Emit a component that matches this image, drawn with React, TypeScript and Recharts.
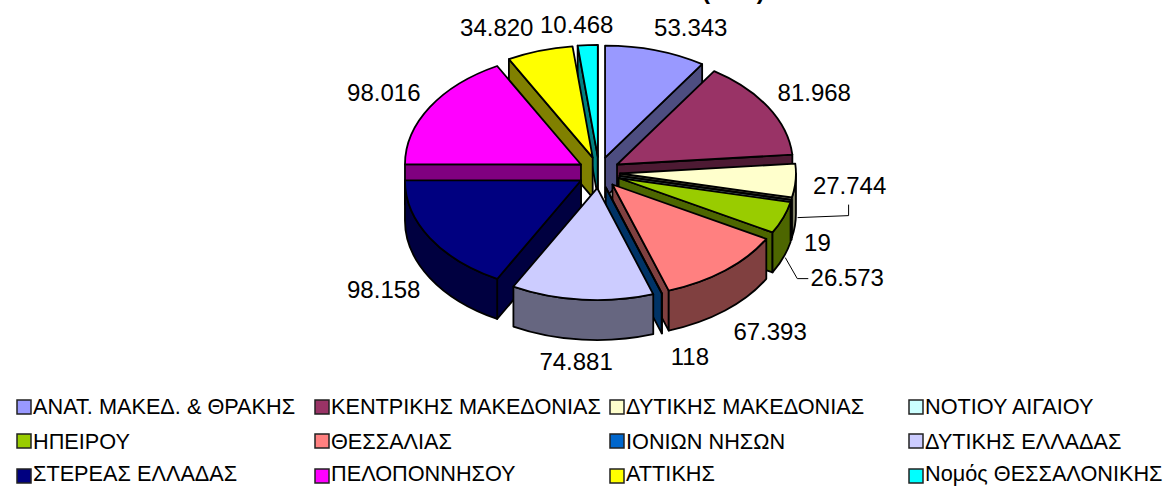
import React from "react";
import { PieChart, Pie, Legend } from "recharts";

const categories = ["ΑΝΑΤ. ΜΑΚΕΔ. & ΘΡΑΚΗΣ","ΚΕΝΤΡΙΚΗΣ ΜΑΚΕΔΟΝΙΑΣ","ΔΥΤΙΚΗΣ ΜΑΚΕΔΟΝΙΑΣ","ΝΟΤΙΟΥ ΑΙΓΑΙΟΥ","ΗΠΕΙΡΟΥ","ΘΕΣΣΑΛΙΑΣ","ΙΟΝΙΩΝ ΝΗΣΩΝ","ΔΥΤΙΚΗΣ ΕΛΛΑΔΑΣ","ΣΤΕΡΕΑΣ ΕΛΛΑΔΑΣ","ΠΕΛΟΠΟΝΝΗΣΟΥ","ΑΤΤΙΚΗΣ","Νομός ΘΕΣΣΑΛΟΝΙΚΗΣ"];
const values = [53343,81968,27744,19,26573,67393,118,74881,98158,98016,34820,10468];
const valueLabels = ["53.343","81.968","27.744","19","26.573","67.393","118","74.881","98.158","98.016","34.820","10.468"];
const topColors = ["#9999FF","#993366","#FFFFCC","#CCFFFF","#99CC00","#FF8080","#0066CC","#CCCCFF","#000080","#FF00FF","#FFFF00","#00FFFF"];
const sideColors = ["#4D4D80","#4D1A33","#808066","#668080","#4D6600","#804040","#003366","#666680","#000040","#800080","#808000","#008080"];
const drawOrder = [11,0,10,1,9,2,3,4,8,5,6,7];
const labelNudges = [[35,-23],[46,-15],[54,5],[26,43],[64,60],[45,61],[28,63],[-6,62],[-46,52],[-46,-15],[-43,-23],[-11,-21]];
const leaders: Record<number, number[][]> = { 2: [[-52,32],[-1,30],[-1,19]], 4: [[-62,-20],[-50,1],[-39,1]] };
const legendCols = [17,315,610,909];
const legendRows = [407,441,476];
const legendTextRows = [406,441,473.5];

const TILT = 112 / 176, DEPTH = 40, EX = 21, EY = 15.6;
const rad = (d: number) => (d * Math.PI) / 180;

function Slice3D(props: any) {
  const { cx, cy, outerRadius: r, startAngle, endAngle, index, layer } = props;
  if (index !== layer) return null;
  const a0 = 90 - startAngle, a1 = 90 - endAngle;
  const mid = (a0 + a1) / 2;
  const px = cx + EX * Math.sin(rad(mid));
  const py = cy - EY * Math.cos(rad(mid));
  const ry = r * TILT;
  const pt = (a: number, d = 0) => [px + r * Math.sin(rad(a)), py - ry * Math.cos(rad(a)) + d];
  const arc = (from: number, to: number, d: number) => {
    const [x, y] = pt(to, d);
    const sweep = to > from ? 1 : 0;
    return `A${r} ${ry} 0 ${Math.abs(to - from) > 180 ? 1 : 0} ${sweep} ${x} ${y}`;
  };
  const [sx, sy] = pt(a0), [ex, ey] = pt(a1);
  const parts: React.ReactNode[] = [];
  const common = { stroke: "#000", strokeWidth: 1.8, strokeLinejoin: "round" as const };
  const side = sideColors[index];
  const face = (x: number, y: number, k: string) => (
    <path key={k} d={`M${px} ${py}L${x} ${y}L${x} ${y + DEPTH}L${px} ${py + DEPTH}Z`} fill={side} {...common} />
  );
  if (Math.sin(rad(a0)) < 0) parts.push(face(sx, sy, "s"));
  if (Math.sin(rad(a1)) > 0) parts.push(face(ex, ey, "e"));
  const w0 = Math.max(a0, 90), w1 = Math.min(a1, 270);
  if (w1 > w0) {
    const [ax, ay] = pt(w0), [bx, by] = pt(w1);
    parts.push(
      <path key="w" d={`M${ax} ${ay}${arc(w0, w1, 0)}L${bx} ${by + DEPTH}${arc(w1, w0, DEPTH)}Z`} fill={side} {...common} />
    );
  }
  parts.push(
    <path key="t" d={`M${px} ${py}L${sx} ${sy}${arc(a0, a1, 0)}Z`} fill={topColors[index]} {...common} />
  );
  const ax = cx + (r + EX) * Math.sin(rad(mid));
  const ay = cy - (ry + EY) * Math.cos(rad(mid));
  const lx = ax + labelNudges[index][0];
  const ly = ay + labelNudges[index][1];
  const lead = leaders[index];
  return (
    <g>
      {parts}
      {lead && <polyline points={lead.map(([a, b]) => `${lx + a},${ly + b}`).join(" ")} fill="none" stroke="#000" strokeWidth={1} />}
      <text x={lx} y={ly} textAnchor="middle" dominantBaseline="central" fontFamily="'Liberation Sans', Arial, sans-serif" fontSize={24} fill="#000">
        {valueLabels[index]}
      </text>
    </g>
  );
}

function LegendBox() {
  return (
    <svg width={1164} height={486} style={{ position: "absolute", left: 0, top: 0, pointerEvents: "none" }}>
      <text x={702} y={-1} fontFamily="'Liberation Sans', Arial, sans-serif" fontSize={24} fontWeight="bold" fill="#000" xmlSpace="preserve">{"(\u00a0\u00a0\u00a0\u00a0\u00a0\u00a0\u00a0)"}</text>
      {categories.map((c, i) => {
        const x = legendCols[i % 4], row = Math.floor(i / 4), y = legendRows[row];
        return (
          <g key={c}>
            <rect x={x} y={y - 7} width={14} height={14} fill={topColors[i]} stroke="#222" strokeWidth={1.5} />
            <text x={x + 16} y={legendTextRows[row]} dominantBaseline="central" fontFamily="'Liberation Sans', Arial, sans-serif" fontSize={21.7} fill="#000">{c}</text>
          </g>
        );
      })}
    </svg>
  );
}

const data = categories.map((name, i) => ({ name, value: values[i] }));

export default function App() {
  return (
    <div style={{ position: "absolute", left: 0, top: 0, width: 1164, height: 486, background: "#fff", overflow: "hidden" }}>
      <PieChart width={1164} height={486} margin={{ top: 0, right: 0, bottom: 0, left: 0 }}>
        {drawOrder.map((layer) => (
          <Pie
            key={layer}
            data={data}
            dataKey="value"
            nameKey="name"
            cx={599}
            cy={172.5}
            outerRadius={176}
            startAngle={90}
            endAngle={-270}
            paddingAngle={0}
            isAnimationActive={false}
            labelLine={false}
            shape={(p: any) => <Slice3D {...p} layer={layer} />}
          />
        ))}
        <Legend content={() => <LegendBox />} wrapperStyle={{ position: "absolute", left: 0, top: 0, width: 1164, height: 486 }} />
      </PieChart>
    </div>
  );
}
